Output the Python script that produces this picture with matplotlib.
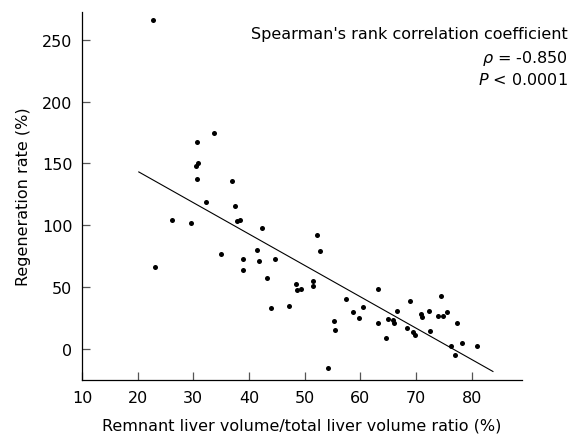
import numpy as np
import matplotlib.pyplot as plt

# remnant liver volume / total liver volume ratio (%)
ratio = [22.8, 30.6, 30.5, 30.8, 30.7, 26.2, 29.5, 23.1,
         33.7, 36.9, 32.3, 37.5, 37.8, 38.4, 42.3, 34.9, 41.4, 39.0,
         41.7, 44.7, 39.0, 43.2, 48.5, 48.6, 49.4, 44.0, 47.1,
         52.2, 52.8, 51.5, 51.5, 57.5, 55.2, 55.5, 54.2, 58.7, 59.7,
         60.4, 63.2, 63.2, 64.6, 64.9, 65.8, 66.1, 66.6, 68.9, 68.3,
         69.5, 69.8, 70.9, 71.0, 72.4, 72.5, 74.5, 74.0, 74.9, 75.5,
         77.3, 76.3, 76.9, 78.3, 80.9]
# regeneration rate (%)
regen = [266, 167, 148, 150, 137.5, 103.7, 101.8, 65.9,
         174.2, 136, 118.3, 115.6, 102.9, 103.7, 97.5, 76.4, 79.7, 72.6,
         70.5, 72.6, 63.7, 57.2, 52.1, 47.5, 48.3, 32.9, 34.8,
         91.6, 78.6, 54.8, 50.5, 40.5, 22.4, 15.4, -15.4, 29.4, 25.1,
         33.7, 48.3, 20.7, 8.3, 23.7, 23.5, 20.3, 30.8, 38.6, 16.5,
         13.2, 10.8, 27.8, 25.9, 30.2, 14.6, 42.6, 26.7, 26.7, 30.0,
         20.3, 1.9, -4.9, 4.5, 2.1]

# regression line
fit_x = [20.2, 83.8]
fit_slope = -2.54
fit_icpt = 194.3

xticks = [10, 20, 30, 40, 50, 60, 70, 80]
yticks = [0, 50, 100, 150, 200, 250]

plt.rcParams['font.family'] = ['DejaVu Sans']

fig = plt.figure(figsize=(5.71, 4.39), dpi=100)
ax = fig.add_axes([0.1436, 0.132, 0.914 - 0.1436, 0.971 - 0.132])

ax.scatter(ratio, regen, s=13, color='black', zorder=3, linewidths=0)
fx = np.array(fit_x)
ax.plot(fx, fit_icpt + fit_slope * fx, color='black', lw=0.8)

ax.set_xlim(10, 89)
ax.set_ylim(-25.5, 272.7)
ax.set_xticks(xticks)
ax.set_yticks(yticks)
for s in ['top', 'right']:
    ax.spines[s].set_visible(False)
for s in ['left', 'bottom']:
    ax.spines[s].set_linewidth(0.9)
ax.tick_params(direction='in', length=5.5, width=0.9, labelsize=11.5, pad=7,
               color='#555555')

ax.set_xlabel('Remnant liver volume/total liver volume ratio (%)', fontsize=11.5,
              labelpad=9)
ax.set_ylabel('Regeneration rate (%)', fontsize=11.5, labelpad=8)

fig.text(568 / 571, 1 - 35 / 439, "Spearman's rank correlation coefficient",
         ha='right', va='center', fontsize=11.5)
fig.text(568 / 571, 1 - 58 / 439, r"$\rho$ = -0.850", ha='right', va='center',
         fontsize=11.5)
fig.text(568 / 571, 1 - 80 / 439, r"$P$ < 0.0001", ha='right', va='center',
         fontsize=11.5)

fig.savefig('out.png', dpi=100)
